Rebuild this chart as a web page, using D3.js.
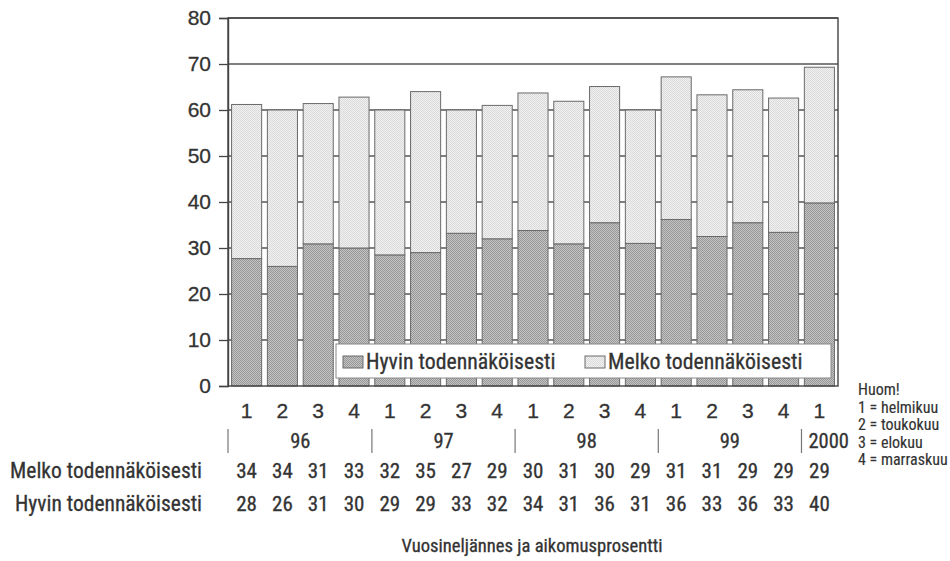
<!DOCTYPE html>
<html><head><meta charset="utf-8">
<script src="https://cdn.jsdelivr.net/npm/d3@7"></script>
<style>
html,body{margin:0;padding:0;background:#fff;}
svg{display:block;}
text{font-family:"Liberation Sans Narrow","Roboto Condensed","Liberation Sans",sans-serif;fill:#333;stroke:#333;stroke-width:0.3px;}
</style></head>
<body><svg id="chart" width="950" height="561"></svg>
<script>
// ---- data ----
const quarters = ["1","2","3","4","1","2","3","4","1","2","3","4","1","2","3","4","1"];
const years = ["96","97","98","99","2000"];
const yearSizes = [4,4,4,4,1];
// values as drawn by the bars (percent)
const hyvin = [27.7,26.0,30.9,30.0,28.5,29.0,33.2,32.0,33.8,30.9,35.5,31.0,36.2,32.5,35.5,33.4,39.8];
const melko = [33.5,34.0,30.5,32.8,31.5,35.0,26.8,29.0,29.9,31.0,29.6,29.0,31.0,30.8,28.9,29.2,29.5];
// rounded values printed in the table
const melkoLabels = ["34","34","31","33","32","35","27","29","30","31","30","29","31","31","29","29","29"];
const hyvinLabels = ["28","26","31","30","29","29","33","32","34","31","36","31","36","33","36","33","40"];
const yTicks = [0,10,20,30,40,50,60,70,80];
const seriesNames = ["Hyvin todennäköisesti","Melko todennäköisesti"];
const noteLines = ["Huom!","1 = helmikuu","2 = toukokuu","3 = elokuu","4 = marraskuu"];
const xTitle = "Vuosineljännes ja aikomusprosentti";

// ---- layout ----
const svg = d3.select("#chart");
const L = 228, R = 838, T = 18, B = 386;
const x = d3.scaleBand().domain(d3.range(quarters.length)).range([L, R]).paddingInner(0.16).paddingOuter(0.1);
const y = d3.scaleLinear().domain([0, 80]).range([B, T]);

const defs = svg.append("defs");
function pat(id, c1, c2) {
  const p = defs.append("pattern").attr("id", id).attr("width", 2).attr("height", 2).attr("patternUnits", "userSpaceOnUse");
  p.append("rect").attr("width", 2).attr("height", 2).attr("fill", c1);
  p.append("rect").attr("width", 1).attr("height", 1).attr("fill", c2);
  p.append("rect").attr("x", 1).attr("y", 1).attr("width", 1).attr("height", 1).attr("fill", c2);
}
pat("pHyvin", "#c4c4c4", "#979797");
pat("pMelko", "#f2f2f2", "#d9d9d9");

// gridlines
svg.append("g").selectAll("line").data(yTicks.filter(d => d > 0)).join("line")
  .attr("x1", L).attr("x2", R).attr("y1", d => y(d)).attr("y2", d => y(d))
  .attr("stroke", "#555").attr("stroke-width", 1.3);

// stacked bars
const stackData = quarters.map((q, i) => ({i, hyvin: hyvin[i], melko: melko[i]}));
const stack = d3.stack().keys(["hyvin", "melko"])(stackData);
const fills = {hyvin: "url(#pHyvin)", melko: "url(#pMelko)"};
svg.append("g").selectAll("g").data(stack).join("g")
  .attr("fill", d => fills[d.key])
  .selectAll("rect").data(d => d).join("rect")
  .attr("x", d => x(d.data.i)).attr("width", x.bandwidth())
  .attr("y", d => y(d[1])).attr("height", d => y(d[0]) - y(d[1]))
  .attr("stroke", "#6a6a6a").attr("stroke-width", 1);

// frame
svg.append("rect").attr("x", L).attr("y", T).attr("width", R - L).attr("height", B - T)
  .attr("fill", "none").attr("stroke", "#444").attr("stroke-width", 1.4);

// y axis
const yAxis = d3.axisLeft(y).tickValues(yTicks).tickSize(9).tickPadding(8);
const ya = svg.append("g").attr("transform", `translate(${L},0)`).call(yAxis);
ya.select(".domain").attr("stroke", "#444").attr("stroke-width", 1.4);
ya.selectAll(".tick line").attr("stroke", "#444").attr("stroke-width", 1.3);
ya.selectAll(".tick text").style("font-size", "21px").attr("fill", "#333")
  .style("font-family", '"Liberation Sans Narrow","Liberation Sans",sans-serif');

// legend
const lg = svg.append("g");
lg.append("rect").attr("x", 336).attr("y", 344).attr("width", 495).attr("height", 34)
  .attr("fill", "#fff").attr("stroke", "#888").attr("stroke-width", 1);
const legItems = [{name: seriesNames[0], fill: fills.hyvin, x: 343}, {name: seriesNames[1], fill: fills.melko, x: 585}];
legItems.forEach(it => {
  lg.append("rect").attr("x", it.x).attr("y", 356).attr("width", 20).attr("height", 12)
    .attr("fill", it.fill).attr("stroke", "#6a6a6a").attr("stroke-width", 1);
  lg.append("text").attr("x", it.x + 23).attr("y", 369).style("font-size", "21.8px").text(it.name);
});

// x axis labels (quarters)
const xAxis = d3.axisBottom(x).tickFormat(i => quarters[i]).tickSize(0).tickPadding(0);
const xa = svg.append("g").attr("transform", `translate(0,${B})`).call(xAxis);
xa.select(".domain").remove();
xa.selectAll(".tick text").attr("y", 32).attr("dy", null).style("font-size", "21px").attr("fill", "#333")
  .style("font-family", '"Liberation Sans Narrow","Liberation Sans",sans-serif');

// year groups
let start = 0;
const yg = svg.append("g");
years.forEach((yr, k) => {
  const i0 = start, i1 = start + yearSizes[k] - 1;
  const sepX = k === 0 ? L : (x(i0) + x(i0 - 1) + x.bandwidth()) / 2;
  yg.append("line").attr("x1", sepX).attr("x2", sepX).attr("y1", 429).attr("y2", 453)
    .attr("stroke", "#777").attr("stroke-width", 1.2);
  const cx = yearSizes[k] > 1 ? (x(i0) + x(i1) + x.bandwidth()) / 2 : sepX + 7;
  yg.append("text").attr("x", cx).attr("y", 448).attr("text-anchor", yearSizes[k] > 1 ? "middle" : "start")
    .style("font-size", "20.5px").text(yr);
  start += yearSizes[k];
});

// table rows
const rows = [{label: "Melko todennäköisesti", vals: melkoLabels, y: 478}, {label: "Hyvin todennäköisesti", vals: hyvinLabels, y: 511}];
rows.forEach(r => {
  svg.append("text").attr("x", 202).attr("y", r.y).attr("text-anchor", "end").style("font-size", "21.5px").text(r.label);
  svg.append("g").selectAll("text").data(r.vals).join("text")
    .attr("x", (d, i) => x(i) + x.bandwidth() / 2).attr("y", r.y).attr("text-anchor", "middle")
    .style("font-size", "21px").text(d => d);
});

// note
svg.append("g").selectAll("text").data(noteLines).join("text")
  .attr("x", 858).attr("y", (d, i) => 395 + i * 17.5).style("font-size", "16px").style("stroke-width", "0.15px").text(d => d);

// x title
svg.append("text").attr("x", 532).attr("y", 552).attr("text-anchor", "middle").style("font-size", "18.6px").text(xTitle);
</script></body></html>
